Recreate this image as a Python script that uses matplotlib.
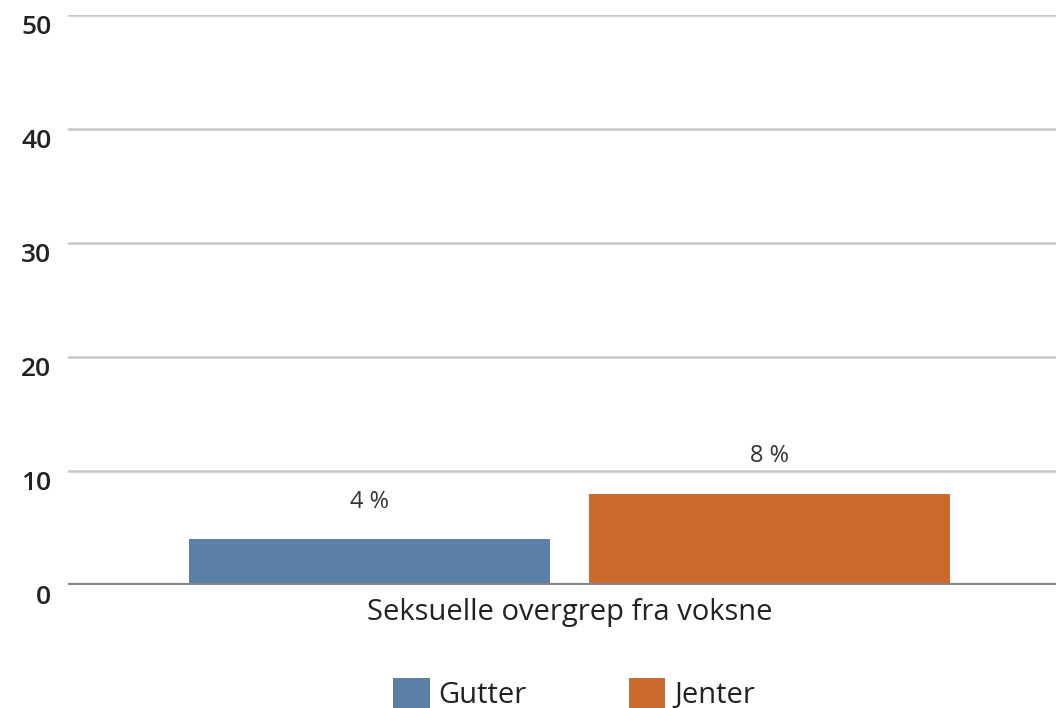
import matplotlib
matplotlib.use("Agg")
import matplotlib.pyplot as plt
from matplotlib.patches import Patch

# data
category = "Seksuelle overgrep fra voksne"
groups = ["Gutter", "Jenter"]
values = [4, 8]
labels = ["4 %", "8 %"]
colors = ["#5b7fa6", "#cb6a2f"]
yticks = [0, 10, 20, 30, 40, 50]

plt.rcParams['font.family'] = ['Open Sans', 'DejaVu Sans']

fig = plt.figure(figsize=(10.56, 7.08), dpi=100)
ax = fig.add_axes([0.0644, 0.1737, 0.9356, 0.805])

offsets = [-0.2, 0.2]
width = 0.361
for off, val, lab, col in zip(offsets, values, labels, colors):
    ax.bar(off, val, width=width, color=col, zorder=3)
    ax.annotate(lab, (off, val), xytext=(0, 27), textcoords="offset points",
                ha="center", va="center", fontsize=17, color="#333333")

ax.set_xlim(-0.5015, 0.4865)
ax.set_ylim(0, 50)
ax.set_yticks(yticks)
ax.set_yticklabels([str(t) for t in yticks], fontsize=19, color="#222222",
                   fontweight="semibold")
for t in ax.get_yticklabels():
    t.set_va("top")
ax.set_xticks([0])
ax.set_xticklabels([category], fontsize=21, color="#222222")

ax.grid(axis="y", color="#c8c8c8", linewidth=1.8, zorder=0)
ax.axhline(0, color="#858585", linewidth=3, zorder=4)
for s in ax.spines.values():
    s.set_visible(False)
ax.tick_params(axis="both", length=0)
ax.tick_params(axis="y", pad=12)
ax.tick_params(axis="x", pad=9)

handles = [Patch(facecolor=c) for c in colors]
fig.legend(handles, groups, loc="center", bbox_to_anchor=(574 / 1056, 1 - 694 / 708),
           ncol=2, frameon=False, fontsize=21, handlelength=1.25, handleheight=1.25,
           columnspacing=3.5, handletextpad=0.3, labelcolor="#222222")

fig.savefig("out.png", dpi=100)
